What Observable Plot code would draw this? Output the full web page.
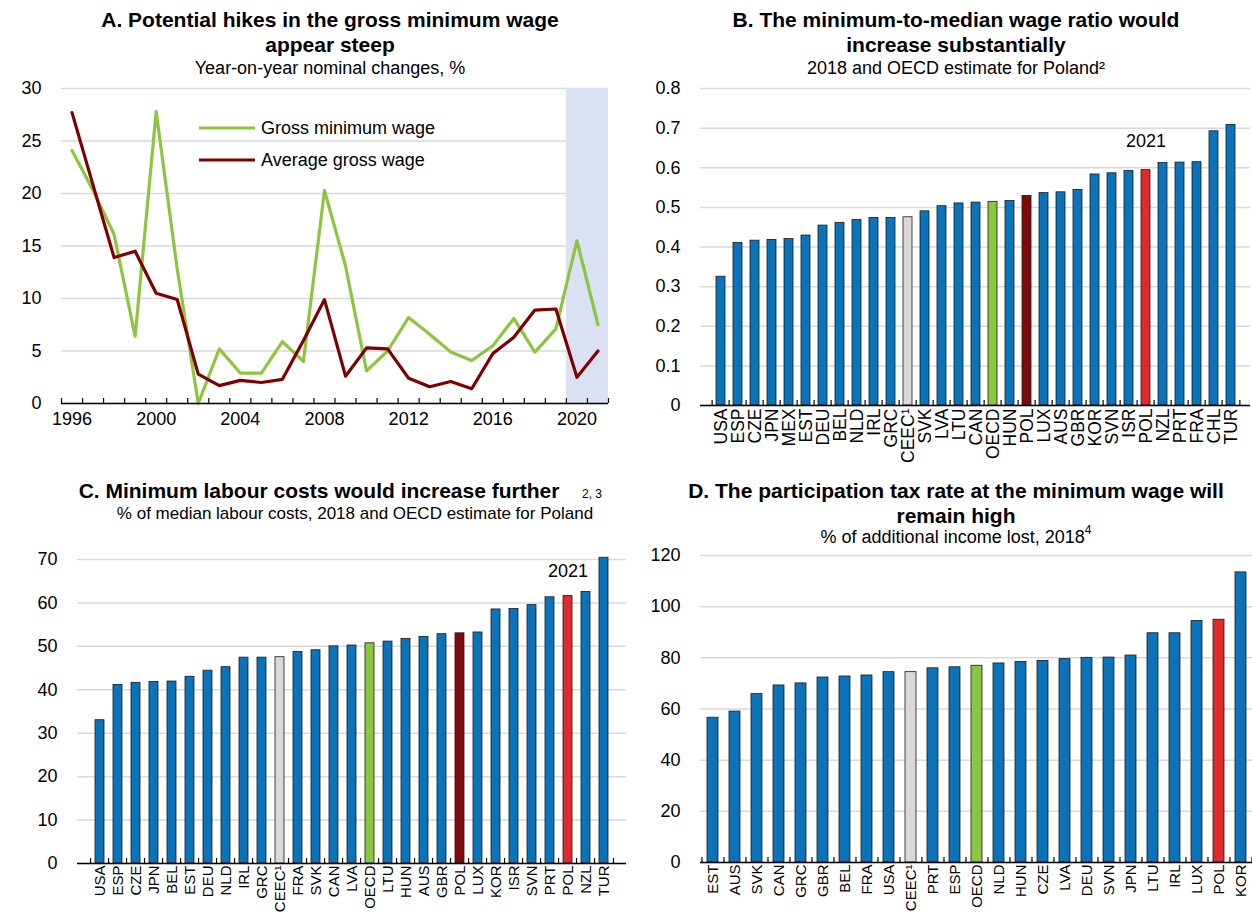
<!DOCTYPE html>
<html><head><meta charset="utf-8">
<script src="https://cdn.jsdelivr.net/npm/d3@7"></script>
<script src="https://cdn.jsdelivr.net/npm/@observablehq/plot@0.6"></script>
<style>
body{margin:0;background:#fff;font-family:"Liberation Sans",Arial,sans-serif;color:#000;}
#root{position:relative;width:1252px;height:913px;overflow:hidden;background:#fff;}
.title{position:absolute;text-align:center;font-weight:bold;font-size:21px;line-height:25px;white-space:nowrap;}
.sub{position:absolute;text-align:center;font-size:18px;line-height:22px;white-space:nowrap;}
.sup{font-size:12px;font-weight:normal;position:relative;}
.supabs{position:absolute;font-size:12px;line-height:14px;white-space:nowrap;}
.panel{position:absolute;}
.legend{position:absolute;font-size:18px;line-height:20px;}
.legend div{display:flex;align-items:center;height:32px;}
.legend svg{margin-right:6px;}
</style></head><body><div id="root"></div>
<script>
// ---------- Panel A data ----------
const years = [1996,1997,1998,1999,2000,2001,2002,2003,2004,2005,2006,2007,2008,2009,2010,2011,2012,2013,2014,2015,2016,2017,2018,2019,2020,2021];
const grossMinWage = [24.1,20.3,16.1,6.4,27.8,12.8,0.0,5.2,2.9,2.9,5.9,4.0,20.3,13.1,3.1,5.0,8.2,6.6,4.9,4.1,5.5,8.1,4.9,7.1,15.5,7.5];
const avgGrossWage = [27.7,20.8,13.9,14.5,10.5,9.9,2.8,1.7,2.2,2.0,2.3,6.0,9.9,2.6,5.3,5.2,2.4,1.6,2.1,1.4,4.75,6.3,8.9,9.0,2.5,5.0];
const forecastYears = [2020, 2021];
const yTicksA = [0,5,10,15,20,25,30];
const xLabelsA = [1996,2000,2004,2008,2012,2016,2020];

// ---------- Panel B data ----------
const countriesB = ["USA","ESP","CZE","JPN","MEX","EST","DEU","BEL","NLD","IRL","GRC","CEEC¹","SVK","LVA","LTU","CAN","OECD","HUN","POL","LUX","AUS","GBR","KOR","SVN","ISR","POL","NZL","PRT","FRA","CHL","TUR"];
const ratioB = [0.325,0.410,0.416,0.418,0.420,0.429,0.454,0.461,0.468,0.473,0.473,0.475,0.490,0.503,0.510,0.512,0.514,0.516,0.529,0.536,0.538,0.544,0.583,0.586,0.592,0.594,0.612,0.613,0.614,0.692,0.708];
const kindB = ["c","c","c","c","c","c","c","c","c","c","c","ceec","c","c","c","c","oecd","c","pol18","c","c","c","c","c","c","pol21","c","c","c","c","c"];
const yTicksB = [0,0.1,0.2,0.3,0.4,0.5,0.6,0.7,0.8];
const noteB = {text: "2021", y: 0.667};

// ---------- Panel C data ----------
const countriesC = ["USA","ESP","CZE","JPN","BEL","EST","DEU","NLD","IRL","GRC","CEEC¹","FRA","SVK","CAN","LVA","OECD","LTU","HUN","AUS","GBR","POL","LUX","KOR","ISR","SVN","PRT","POL","NZL","TUR"];
const costsC = [33.0,41.1,41.6,41.8,41.9,43.0,44.4,45.2,47.4,47.4,47.5,48.7,49.1,50.0,50.2,50.7,51.1,51.7,52.2,52.8,53.0,53.2,58.5,58.6,59.5,61.3,61.6,62.5,70.4];
const kindC = ["c","c","c","c","c","c","c","c","c","c","ceec","c","c","c","c","oecd","c","c","c","c","pol18","c","c","c","c","c","pol21","c","c"];
const yTicksC = [0,10,20,30,40,50,60,70];
const noteC = {text: "2021", y: 67.4};

// ---------- Panel D data ----------
const countriesD = ["EST","AUS","SVK","CAN","GRC","GBR","BEL","FRA","USA","CEEC¹","PRT","ESP","OECD","NLD","HUN","CZE","LVA","DEU","SVN","JPN","LTU","IRL","LUX","POL","KOR"];
const taxD = [56.6,59.0,65.8,69.2,70.0,72.3,72.7,73.1,74.4,74.4,75.9,76.3,76.9,77.8,78.4,78.8,79.5,80.0,80.1,80.9,89.6,89.6,94.4,94.9,113.4];
const kindD = ["c","c","c","c","c","c","c","c","c","ceec","c","c","oecd","c","c","c","c","c","c","c","c","c","c","pol21","c"];
const yTicksD = [0,20,40,60,80,100,120];

// ---------- styles ----------
const kindColors = {c: "#0a73ba", ceec: "#d9d9d9", oecd: "#8cc63f", pol18: "#7f0a0a", pol21: "#df2a2e"};
const lineGreen = "#8cc63f", lineRed = "#800000";
const gridColor = "#d9d9d9";
const font = "'Liberation Sans', Arial, sans-serif";
const tickFont = 18;

const root = document.getElementById("root");
function place(el, left, top) { el.classList.add("panel"); el.style.left = left + "px"; el.style.top = top + "px"; root.appendChild(el); }
function addDiv(cls, html, left, top, width) {
  const d = document.createElement("div"); d.className = cls; d.innerHTML = html;
  d.style.left = left + "px"; d.style.top = top + "px"; if (width) d.style.width = width + "px";
  root.appendChild(d); return d;
}

// ---------- Panel A ----------
(function(){
  const width = 630, height = 360, mt = 18, mb = 27, ml = 61, mr = 22;
  const innerH = height - mt - mb;
  const rows = years.map((y, i) => ({year: y, min: grossMinWage[i], avg: avgGrossWage[i]}));
  const span = [{x1: d3.min(forecastYears) - 0.5, x2: d3.max(forecastYears) + 0.5}];
  const bounds = d3.range(years[0] - 0.5, years[years.length - 1] + 1, 1);
  const chart = Plot.plot({
    width, height, marginTop: mt, marginBottom: mb, marginLeft: ml, marginRight: mr,
    style: {fontFamily: font, fontSize: tickFont + "px", color: "#000", background: "transparent", overflow: "visible"},
    x: {type: "linear", domain: [years[0] - 0.5, years[years.length - 1] + 0.5], label: null},
    y: {domain: [0, 30], label: null},
    marks: [
      Plot.gridY(yTicksA, {stroke: gridColor, strokeOpacity: 1, strokeWidth: 1.5}),
      Plot.rect(span, {x1: "x1", x2: "x2", fill: "#d9e1f2"}),
      Plot.line(rows, {x: "year", y: "min", stroke: lineGreen, strokeWidth: 3.2}),
      Plot.line(rows, {x: "year", y: "avg", stroke: lineRed, strokeWidth: 3.2}),
      Plot.ruleY([0], {stroke: "#000", strokeWidth: 1.5}),
      Plot.tickX(bounds, {x: d => d, insetTop: innerH - 5, stroke: "#000", strokeWidth: 1.2}),
      Plot.axisY(yTicksA, {tickSize: 0, tickPadding: 20, fontSize: tickFont, label: null}),
      Plot.axisX(xLabelsA, {tickSize: 0, tickPadding: 9, tickFormat: d => String(d), fontSize: tickFont, label: null})
    ]
  });
  place(chart, 0, 70);
  addDiv("title", "A. Potential hikes in the gross minimum wage<br>appear steep", 10, 7, 640);
  addDiv("sub", "Year-on-year nominal changes, %", 10, 57, 640);
  addDiv("legend", `<div><svg width="56" height="6"><line x1="0" y1="3" x2="56" y2="3" stroke="${lineGreen}" stroke-width="3.2"/></svg>Gross minimum wage</div><div><svg width="56" height="6"><line x1="0" y1="3" x2="56" y2="3" stroke="${lineRed}" stroke-width="3.2"/></svg>Average gross wage</div>`, 199, 112);
})();

// ---------- bar panels ----------
function barPanel({labels, values, kinds, yDomain, yTicks, yFormat, width, height, mt, mb, ml, mr, note, overflow, labelSize, labelPad}) {
  const n = labels.length;
  const idx = d3.range(n);
  const data = idx.map(i => ({i, v: values[i], k: kinds[i]}));
  const step = (width - ml - mr) / n;
  const innerH = height - mt - mb;
  const marks = [
    Plot.gridY(yTicks, {stroke: gridColor, strokeOpacity: 1, strokeWidth: 1.5}),
    Plot.barY(data, {x: "i", y: "v", fill: d => kindColors[d.k], stroke: "#1a1a1a", strokeWidth: 0.8}),
    Plot.ruleY([0], {stroke: "#000", strokeWidth: 1.5}),
    Plot.tickX(idx, {x: d => d, dx: -step / 2, insetTop: innerH - 5, stroke: "#000", strokeWidth: 1.2}),
    Plot.tickX([n - 1], {x: d => d, dx: step / 2, insetTop: innerH - 5, stroke: "#000", strokeWidth: 1.2}),
    Plot.axisY(yTicks, {tickSize: 0, tickPadding: 20, tickFormat: yFormat, fontSize: tickFont, label: null}),
    Plot.axisX(idx, {tickSize: 0, tickPadding: labelPad, tickRotate: -90, tickFormat: i => labels[i], fontSize: labelSize, label: null})
  ];
  if (note) {
    const ni = kinds.indexOf("pol21");
    marks.push(Plot.text([{i: ni, y: note.y, t: note.text}], {x: "i", y: "y", text: "t", fontSize: tickFont}));
  }
  return Plot.plot({
    width, height, marginTop: mt, marginBottom: mb, marginLeft: ml, marginRight: mr,
    style: {fontFamily: font, fontSize: tickFont + "px", color: "#000", background: "transparent", overflow: overflow || "hidden"},
    x: {type: "band", domain: idx, paddingInner: 0.5, paddingOuter: 0.25, label: null},
    y: {domain: yDomain, label: null},
    marks
  });
}

place(barPanel({labels: countriesB, values: ratioB, kinds: kindB, yDomain: [0, 0.8], yTicks: yTicksB,
  yFormat: d => d === 0 ? "0" : d3.format(".1f")(d), width: 612, height: 372, mt: 18, mb: 37, ml: 60, mr: 2, note: noteB, overflow: "visible", labelSize: 17.5, labelPad: 3}), 640, 70);
addDiv("title", "B. The minimum-to-median wage ratio would<br>increase substantially", 650, 7, 612);
addDiv("sub", "2018 and OECD estimate for Poland²", 650, 57, 612);

place(barPanel({labels: countriesC, values: costsC, kinds: kindC, yDomain: [0, 70], yTicks: yTicksC,
  yFormat: d => String(d), width: 630, height: 373, mt: 19, mb: 50, ml: 77, mr: 4, note: noteC, labelSize: 15, labelPad: 2}), 0, 540);
addDiv("title", "C. Minimum labour costs would increase further", 4, 478, 630);
addDiv("supabs", "2, 3", 582, 487);
addDiv("sub", "% of median labour costs, 2018 and OECD estimate for Poland", 40, 503, 630).style.fontSize = "17px";

place(barPanel({labels: countriesD, values: taxD, kinds: kindD, yDomain: [0, 120], yTicks: yTicksD,
  yFormat: d => String(d), width: 612, height: 373, mt: 15, mb: 51, ml: 60, mr: 0, note: null, labelSize: 15, labelPad: 2}), 640, 540);
addDiv("title", "D. The participation tax rate at the minimum wage will<br>remain high", 650, 478, 612);
addDiv("sub", "% of additional income lost, 2018<span class='sup' style='top:-9px'>4</span>", 650, 526, 612);
</script></body></html>
